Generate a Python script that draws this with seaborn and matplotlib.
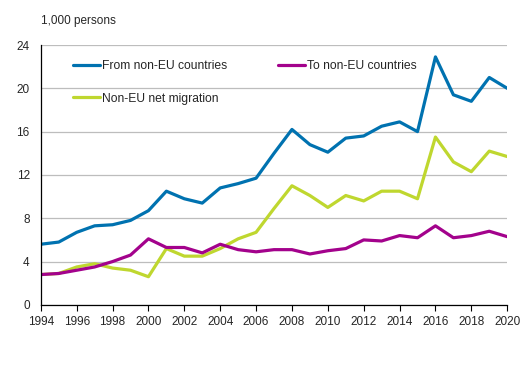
import pandas as pd
import seaborn as sns
import matplotlib.pyplot as plt

years = list(range(1994, 2021))
from_non_eu = [5.6, 5.8, 6.7, 7.3, 7.4, 7.8, 8.7, 10.5, 9.8, 9.4, 10.8, 11.2, 11.7,
               14.0, 16.2, 14.8, 14.1, 15.4, 15.6, 16.5, 16.9, 16.0, 22.9, 19.4, 18.8, 21.0, 20.0]
to_non_eu = [2.8, 2.9, 3.2, 3.5, 4.0, 4.6, 6.1, 5.3, 5.3, 4.8, 5.6, 5.1, 4.9,
             5.1, 5.1, 4.7, 5.0, 5.2, 6.0, 5.9, 6.4, 6.2, 7.3, 6.2, 6.4, 6.8, 6.3]
net_migration = [2.8, 2.9, 3.5, 3.8, 3.4, 3.2, 2.6, 5.2, 4.5, 4.5, 5.2, 6.1, 6.7,
                 8.9, 11.0, 10.1, 9.0, 10.1, 9.6, 10.5, 10.5, 9.8, 15.5, 13.2, 12.3, 14.2, 13.7]

series = ["From non-EU countries", "Non-EU net migration", "To non-EU countries"]
df = pd.DataFrame({
    "year": years * 3,
    "value": from_non_eu + net_migration + to_non_eu,
    "series": [series[0]] * 27 + [series[1]] * 27 + [series[2]] * 27,
})
palette = {series[0]: "#0072B0", series[1]: "#BFD72F", series[2]: "#A3028C"}

sns.set_style("white")
plt.rcParams["font.family"] = ["Liberation Sans", "DejaVu Sans"]

fig = plt.figure(figsize=(5.3, 3.75), dpi=100)
ax = fig.add_axes([0.077, 0.187, 0.880, 0.693])
sns.lineplot(data=df, x="year", y="value", hue="series", hue_order=series,
             palette=palette, linewidth=2.3, ax=ax)

ax.set_xlim(1994, 2020)
ax.set_ylim(0, 24)
ax.set_xticks(range(1994, 2021, 2))
ax.set_yticks(range(0, 25, 4))
ax.grid(axis="y", color="#BDBDBD", linewidth=0.9)
ax.set_axisbelow(True)
for s in ["top", "right"]:
    ax.spines[s].set_visible(False)
ax.spines["left"].set_color("black")
ax.spines["bottom"].set_color("black")
ax.spines["left"].set_linewidth(0.9)
ax.spines["bottom"].set_linewidth(0.9)
ax.tick_params(axis="x", direction="out", length=4, width=0.8, color="black",
               labelsize=8.5, pad=4, bottom=True)
ax.tick_params(axis="y", length=0, labelsize=8.5, pad=8)
ax.set_xlabel("")
ax.set_ylabel("")
ax.text(0.0, 1.07, "1,000 persons", transform=ax.transAxes, fontsize=8.5,
        ha="left", va="bottom")

ax.legend(loc="upper left", bbox_to_anchor=(0.069, 0.942), ncol=2, frameon=False,
          fontsize=8.7, handlelength=2.25, handletextpad=0.15, labelspacing=1.7,
          columnspacing=4.2, borderpad=0, borderaxespad=0)

fig.savefig("out.png", dpi=100)
